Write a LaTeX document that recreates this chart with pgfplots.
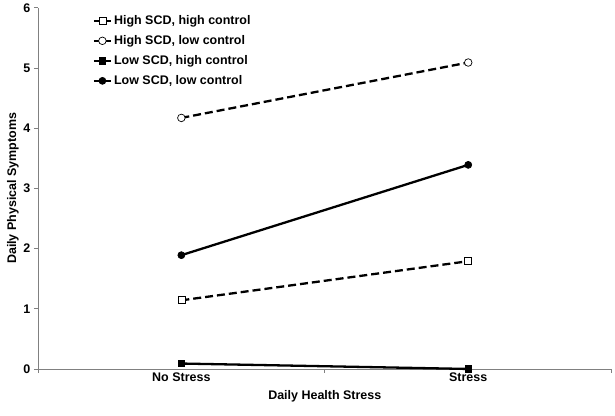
\documentclass[border=0pt]{standalone}
\usepackage{pgfplots}
\pgfplotsset{compat=1.18}
\usepackage{fontspec}
\setmainfont{Liberation Sans}
\begin{document}
\begin{tikzpicture}
\begin{axis}[
  scale only axis,
  width=575pt, height=362pt,
  xmin=0, xmax=2, ymin=0, ymax=6,
  axis lines*=left,
  axis line style={gray, line width=0.8pt},
  xtick={0,1,2},
  xticklabels={},
  extra x ticks={0.5,1.5},
  extra x tick labels={No Stress, Stress},
  extra x tick style={major tick length=0pt},
  ytick={0,1,2,3,4,5,6},
  tick align=outside,
  major tick length=4pt,
  tick style={gray, line width=0.8pt},
  tick label style={font=\bfseries\fontsize{12.5}{14}\selectfont},
  /pgf/number format/assume math mode=true,
  xlabel={Daily Health Stress},
  ylabel={Daily Physical Symptoms},
  label style={font=\bfseries\fontsize{12.5}{14}\selectfont},
  xlabel style={yshift=2pt},
  ylabel style={yshift=-2pt},
  legend style={draw=none, fill=none, at={(0.09,0.99)}, anchor=north west,
    font=\bfseries\fontsize{12.5}{14}\selectfont, row sep=5.5pt},
  legend cell align=left,
  clip=false,
]
\addplot[black, line width=2.3pt, dash pattern=on 8pt off 4pt, mark=square*, mark options={solid, fill=white, line width=0.7pt}, mark size=3.5pt]
  coordinates {(0.5,1.14) (1.5,1.79)};
\addlegendentry{High SCD, high control}
\addplot[black, line width=2.3pt, dash pattern=on 8pt off 4pt, mark=*, mark options={solid, fill=white, line width=0.7pt}, mark size=3.8pt]
  coordinates {(0.5,4.17) (1.5,5.09)};
\addlegendentry{High SCD, low control}
\addplot[black, line width=2.3pt, mark=square*, mark options={solid, fill=black, line width=0.7pt}, mark size=3.3pt]
  coordinates {(0.5,0.09) (1.5,0.0)};
\addlegendentry{Low SCD, high control}
\addplot[black, line width=2.3pt, mark=*, mark options={solid, fill=black, line width=0.7pt}, mark size=3.5pt]
  coordinates {(0.5,1.89) (1.5,3.39)};
\addlegendentry{Low SCD, low control}
\end{axis}
\path (-38pt,-47pt) rectangle (577pt,367pt);
\end{tikzpicture}
\end{document}
